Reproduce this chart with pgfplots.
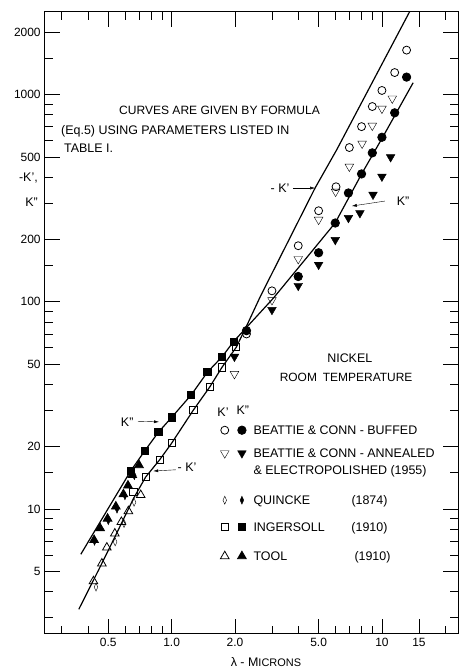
\documentclass[border=0pt]{standalone}
\usepackage{fontspec}
\setmainfont{Liberation Sans}
\usepackage{pgfplots}
\pgfplotsset{compat=1.18}
\usetikzlibrary{arrows.meta}

\pgfplotsset{
  pt/.style={only marks, black, mark size=#1, mark options={line width=0.8bp, solid}},
  pt/.default=4bp,
}
% strut for legend rows: depth #1, height 10bp
\newcommand\lstrut[1]{\rule[-#1]{0pt}{\dimexpr#1+10bp\relax}}

\begin{document}
\fontsize{12.5}{15}\selectfont
\begin{tikzpicture}
\useasboundingbox (-45bp,-34bp) rectangle (414bp,634bp);
\begin{axis}[
  name=ax, at={(0,0)}, anchor=south west,
  scale only axis, width=413bp, height=622bp,
  font=\fontsize{12.5}{15}\selectfont,
  xmode=log, ymode=log,
  xmin=0.25, xmax=23, ymin=2.5, ymax=2500,
  xtick={0.5,1,2,5,10,15}, xticklabels={0.5,1.0,2.0,5.0,10,15},
  minor xtick={0.3,0.4,0.6,0.7,0.8,0.9,3,4,6,7,8,9,20},
  ytick={5,10,20,50,100,200,500,1000,2000},
  yticklabels={5,10,20,50,100,200,500,1000,2000},
  minor ytick={3,4,6,7,8,9,15,30,40,60,70,80,90,150,300,400,600,700,800,900,1500},
  tick label style={font=\fontsize{12}{14}\selectfont},
  major tick length=15bp, minor tick length=8bp,
  tick style={black, line width=0.8bp},
  axis line style={line width=1bp},
  clip mode=individual,
  legend columns=2,
  legend image code/.code={\draw[#1] plot coordinates {(0bp,4.5bp)};},
  legend style={at={(0.4243,0.3368)}, anchor=north west, draw=none, fill=none,
    inner sep=0bp, column sep=3.75bp, row sep=0bp,
    cells={anchor=base west},
    nodes={inner sep=0bp, text depth={}, text height={}}},
]

% Beattie & Conn, buffed
\addplot[pt, mark=o] coordinates {
  (13.1,1637) (11.5,1276) (10.0,1046) (9.0,875) (8.0,700) (7.0,555)
  (6.05,359) (5.0,275) (4.0,186.5) (3.0,113) (2.27,70)
};
\addlegendentry{}
\addplot[pt=4.2bp, mark=*, fill=black] coordinates {
  (13.1,1213) (11.5,816) (10.0,622) (9.0,523) (8.0,414) (6.93,335)
  (6.0,240) (5.0,172.5) (4.0,132.5) (2.27,72.6)
};
\addlegendentry{\hspace*{3.5bp}\lstrut{13bp}BEATTIE \& CONN - BUFFED}

% Beattie & Conn, annealed & electropolished
\addplot[pt=5bp, mark=triangle, mark options={rotate=180}] coordinates {
  (11.2,957) (10.0,855) (9.0,708) (8.05,580) (7.0,449) (6.02,340)
  (5.0,249) (4.0,161) (3.0,102) (1.99,44.9)
};
\addlegendentry{}
\addplot[pt=5bp, mark=triangle*, fill=black, mark options={rotate=180}] coordinates {
  (11.0,499) (10.0,402) (9.07,329) (7.86,268) (6.93,254) (6.0,199)
  (5.0,151) (4.0,119.5) (3.0,91.5) (1.99,54.4)
};
\addlegendentry{\hspace*{3.5bp}\lstrut{37bp}\rlap{\raisebox{-17bp}[0pt][0pt]{\& ELECTROPOLISHED (1955)}}BEATTIE \& CONN - ANNEALED}

% Quincke
\addplot[pt=4bp, mark=diamond, mark options={xscale=0.6}] coordinates {
  (0.663,10.8) (0.594,8.53) (0.539,6.95) (0.437,4.21)
};
\addlegendentry{}
\addplot[pt=4bp, mark=diamond*, fill=black, mark options={xscale=0.6}] coordinates {
  (0.665,14.5) (0.60,11.6) (0.55,10.0) (0.50,8.8) (0.43,7.0)
};
\addlegendentry{\hspace*{3.5bp}\lstrut{17bp}\makebox[98bp][l]{QUINCKE}(1874)}

% Ingersoll
\addplot[pt=3.6bp, mark=square] coordinates {
  (2.03,60.4) (1.735,48.3) (1.517,38.8) (1.27,30.1) (1.0,20.8)
  (0.877,17.3) (0.753,14.3) (0.658,12.1)
};
\addlegendentry{}
\addplot[pt=3.6bp, mark=square*, fill=black] coordinates {
  (1.97,64.3) (1.74,54.4) (1.48,45.8) (1.24,35.6) (1.0,27.7)
  (0.865,23.5) (0.745,19.1) (0.639,15.3)
};
\addlegendentry{\hspace*{3.5bp}\lstrut{19bp}\makebox[98bp][l]{INGERSOLL}(1910)}

% Tool
\addplot[pt=5bp, mark=triangle] coordinates {
  (0.713,11.7) (0.623,9.78) (0.577,8.68) (0.537,7.63) (0.492,6.53)
  (0.466,5.47) (0.425,4.49)
};
\addlegendentry{}
\addplot[pt=5bp, mark=triangle*, fill=black] coordinates {
  (0.70,16.3) (0.65,14.6) (0.62,13.0) (0.59,11.8) (0.543,10.3)
  (0.496,9.0) (0.457,8.1) (0.428,7.1)
};
\addlegendentry{\hspace*{3.5bp}\lstrut{3bp}\makebox[101bp][l]{TOOL}(1910)}

% curves from Eq. 5
\addplot[black, line width=1.2bp, forget plot] coordinates {
  (0.362,3.29) (0.45,5.1) (0.525,7.0) (0.66,11.3) (0.753,14.3) (0.877,17.3)
  (1.0,20.8) (1.27,30.1) (1.517,38.8) (1.735,48.3) (2.03,60.4) (2.32,80)
  (2.64,106) (4.81,354) (6.10,542) (13.57,2518)
};
\addplot[black, line width=1.2bp, forget plot] coordinates {
  (0.370,6.06) (0.639,15.3) (0.745,19.1) (0.865,23.5) (1.0,27.7)
  (1.24,35.6) (1.48,45.8) (1.74,54.4) (1.97,64.3) (3.05,104.3)
  (4.57,171.8) (5.99,240) (8.01,414) (10.08,622) (14.07,1139)
};

% text
\node[anchor=base west, inner sep=0pt, font=\fontsize{12.1}{15}\selectfont] at (rel axis cs:0.179,0.835) {CURVES ARE GIVEN BY FORMULA};
\node[anchor=base west, inner sep=0pt] at (rel axis cs:0.0387,0.803) {(Eq.5) USING PARAMETERS LISTED IN};
\node[anchor=base west, inner sep=0pt] at (rel axis cs:0.046,0.774) {TABLE I.};
\node[anchor=base] at (rel axis cs:0.738,0.4365) {NICKEL};
\node[anchor=base, font=\fontsize{12}{14}\selectfont] at (rel axis cs:0.729,0.406) {ROOM\enspace TEMPERATURE};

\node[anchor=base] at (rel axis cs:0.569,0.7098) {- K'};
\draw[-{Latex[length=5bp,width=3bp]}] (rel axis cs:0.600,0.717) -- (rel axis cs:0.654,0.717);
\node[anchor=base] at (rel axis cs:0.867,0.689) {K''};
\draw[-{Latex[length=5bp,width=3bp]}] (rel axis cs:0.823,0.696) -- (rel axis cs:0.743,0.688);
\node[anchor=base] at (rel axis cs:0.199,0.3336) {K''};
\draw[-{Latex[length=5bp,width=3bp]}] (rel axis cs:0.225,0.342) -- (rel axis cs:0.276,0.341);
\node[anchor=base] at (rel axis cs:0.344,0.2613) {- K'};
\draw[-{Latex[length=5bp,width=3bp]}] (rel axis cs:0.317,0.264) -- (rel axis cs:0.262,0.262);

\node[anchor=base] at (rel axis cs:0.431,0.3497) {K'};
\node[anchor=base] at (rel axis cs:0.479,0.353) {K''};

\node[anchor=base east, inner sep=0pt] at (rel axis cs:-0.017,0.7275) {-K',};
\node[anchor=base east, inner sep=0pt] at (rel axis cs:-0.017,0.687) {K''};
\node[anchor=base] at (rel axis cs:0.535,-0.0523) {λ - M{\fontsize{11}{12}\selectfont ICRONS}};
\end{axis}
\end{tikzpicture}
\end{document}
